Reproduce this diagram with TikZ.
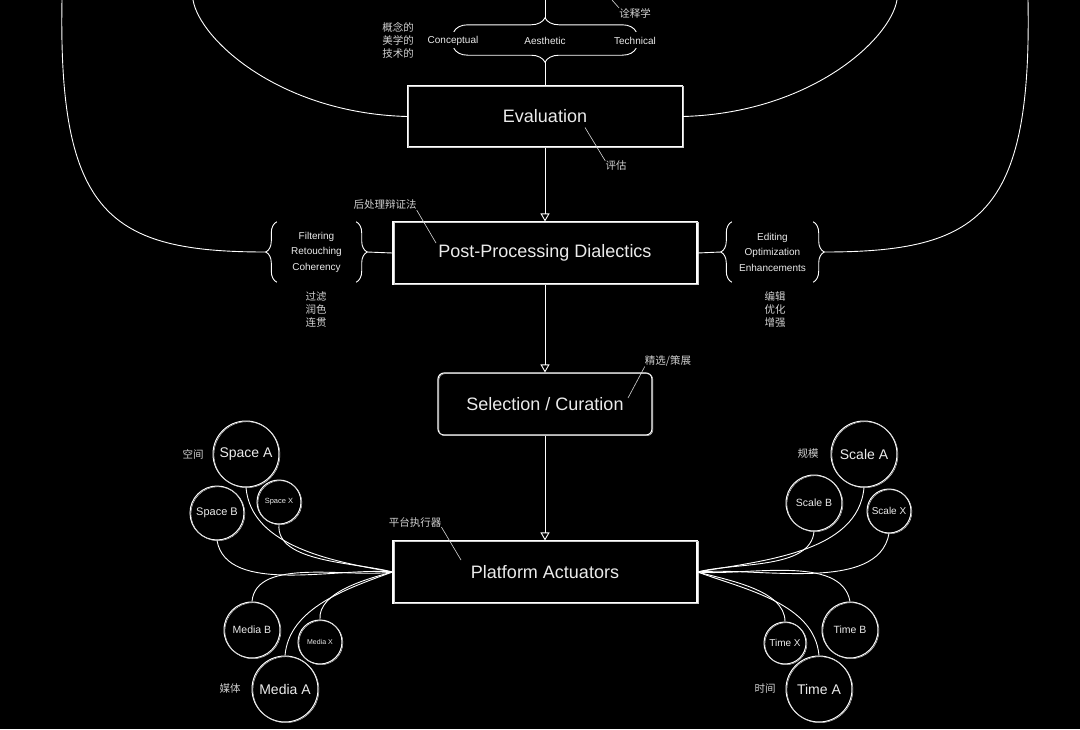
\documentclass[tikz,border=0pt]{standalone}
\usepackage{fontspec}
\setmainfont{Liberation Sans}
\newfontfamily\zh{Noto Sans CJK SC}
\usetikzlibrary{arrows.meta,decorations.pathreplacing}

\begin{document}
\begin{tikzpicture}[x=1pt,y=-1pt]
\tikzstyle{every node}+=[inner sep=0pt,text=white!92!black]
\tikzstyle{rough}=[postaction={draw=white!80!black,line width=0.5pt,transform canvas={shift={(0.9pt,-0.7pt)}}}]
\tikzstyle{box}=[draw=white,line width=1.1pt,rough,font=\fontsize{18}{20}\selectfont]
\tikzstyle{ln}=[white,line width=0.9pt]
\tikzstyle{lead}=[white!85!black,line width=0.6pt]
\tikzstyle{arr}=[ln,-{Triangle[open,length=8pt,width=9pt]}]
\tikzstyle{brc}=[ln,decorate,decoration={brace,amplitude=14pt}]
\tikzstyle{vbrc}=[ln,decorate,decoration={brace,amplitude=11pt}]
\tikzstyle{small}=[font=\fontsize{10}{15.5}\selectfont,align=center]
\tikzstyle{zhnote}=[font=\zh\fontsize{10.5}{13}\selectfont,text=white!82!black,align=center]
\tikzstyle{orb}=[circle,draw=white,line width=1pt,rough]
\fill[black] (0,0) rectangle (1080,729);
\useasboundingbox (0,0) rectangle (1080,729);
% main chain
\node[box,minimum width=275,minimum height=61] (eval) at (545,116.5) {Evaluation};
\node[box,minimum width=304,minimum height=62] (post) at (545,253) {Post-Processing Dialectics};
\node[box,rounded corners=6pt,minimum width=214,minimum height=62] (sel) at (545,404) {Selection / Curation};
\node[box,minimum width=304,minimum height=62] (plat) at (545,572) {Platform Actuators};
\draw[arr] (eval.south) -- (post.north);
\draw[arr] (post.south) -- (sel.north);
\draw[arr] (sel.south) -- (plat.north);
% criteria braces
\node[minimum width=182,minimum height=16] (crit) at (545,40) {};
\node[small] (con) at (453,41) {Conceptual};
\node[small] (aes) at (545,41) {Aesthetic};
\node[small] (tec) at (635,41) {Technical};
\coordinate (topc) at (545,0);
\draw[brc] (crit.north west) -- (crit.north east);
\draw[brc] (crit.south east) -- (crit.south west);
\draw[ln] ([yshift=14pt]crit.north) -- (topc);
\draw[ln] ([yshift=-14pt]crit.south) -- (eval.north);
\node[zhnote] (critZh) at (398,40) {概念的\\美学的\\技术的};
\node[zhnote] (herm) at (635,13) {诠释学};
\coordinate (hermTop) at (612,0);
\draw[lead] (hermTop) -- (herm.north west);
% loops
\coordinate (tl1) at (62,0);
\coordinate (tl2) at (193,0);
\coordinate (tr2) at (897,0);
\coordinate (tr1) at (1028,0);
\draw[ln] (tl2) .. controls (200,40) and (280,113) .. (eval.west);
\draw[ln] (tr2) .. controls (890,40) and (810,113) .. (eval.east);
% post-processing groups
\node[small,minimum width=79,minimum height=60] (flt) at (316.5,252) {Filtering\\Retouching\\Coherency};
\node[small,minimum width=81,minimum height=60] (edt) at (772.5,252) {Editing\\Optimization\\Enhancements};
\draw[vbrc] (flt.south west) -- (flt.north west);
\draw[vbrc] (flt.north east) -- (flt.south east);
\draw[vbrc] (edt.south west) -- (edt.north west);
\draw[vbrc] (edt.north east) -- (edt.south east);
\draw[ln] ([xshift=11pt]flt.east) -- (post.west);
\draw[ln] (post.east) -- ([xshift=-11pt]edt.west);
\draw[ln] (tl1) .. controls (58,215) and (110,252) .. ([xshift=-11pt]flt.west);
\draw[ln] (tr1) .. controls (1032,215) and (980,252) .. ([xshift=11pt]edt.east);
\node[zhnote] (fltZh) at (316,310) {过滤\\润色\\连贯};
\node[zhnote] (edtZh) at (775,310) {编辑\\优化\\增强};
% notes
\node[zhnote] (evN) at (616,166) {评估};
\draw[lead] ([xshift=40pt,yshift=-11pt]eval.center) -- (evN.north west);
\node[zhnote] (postN) at (385,205) {后处理辩证法};
\draw[lead] (postN.south east) -- ([xshift=-109pt,yshift=10pt]post.center);
\node[zhnote] (selN) at (668,361) {精选/策展};
\draw[lead] (selN.south west) -- ([xshift=83pt,yshift=6pt]sel.center);
\node[zhnote] (platN) at (415,522) {平台执行器};
\draw[lead] (platN.south east) -- ([xshift=-84pt,yshift=12pt]plat.center);
% left actuators
\node[orb,minimum size=66,font=\fontsize{14}{16}\selectfont] (spA) at (246,454) {Space A};
\node[orb,minimum size=54,font=\fontsize{11}{13}\selectfont] (spB) at (217,513) {Space B};
\node[orb,minimum size=44,font=\fontsize{7.5}{9}\selectfont] (spX) at (279,502) {Space X};
\node[orb,minimum size=56,font=\fontsize{10.5}{12}\selectfont] (mdB) at (252,630) {Media B};
\node[orb,minimum size=44,font=\fontsize{7}{9}\selectfont] (mdX) at (320,642) {Media X};
\node[orb,minimum size=66,font=\fontsize{14}{16}\selectfont] (mdA) at (285,689) {Media A};
\node[zhnote] (spZh) at (193,454) {空间};
\node[zhnote] (mdZh) at (230,689) {媒体};
\draw[ln] (spA.south) to[out=-85,in=170,looseness=0.9] (plat.west);
\draw[ln] (spB.south) to[out=-80,in=175,looseness=0.8] (plat.west);
\draw[ln] (spX.south) to[out=-95,in=165,looseness=0.8] (plat.west);
\draw[ln] (mdB.north) to[out=85,in=-172,looseness=0.8] (plat.west);
\draw[ln] (mdX.north) to[out=95,in=-165,looseness=0.8] (plat.west);
\draw[ln] (mdA.north) to[out=85,in=-160,looseness=0.9] (plat.west);
% right actuators
\node[orb,minimum size=66,font=\fontsize{14}{16}\selectfont] (scA) at (864,454) {Scale A};
\node[orb,minimum size=56,font=\fontsize{10.5}{12}\selectfont] (scB) at (814,503) {Scale B};
\node[orb,minimum size=44,font=\fontsize{10}{12}\selectfont] (scX) at (889,511) {Scale X};
\node[orb,minimum size=42,font=\fontsize{10}{12}\selectfont] (tmX) at (785,643) {Time X};
\node[orb,minimum size=56,font=\fontsize{10.5}{12}\selectfont] (tmB) at (850,630) {Time B};
\node[orb,minimum size=66,font=\fontsize{14}{16}\selectfont] (tmA) at (819,689) {Time A};
\node[zhnote] (scZh) at (808,454) {规模};
\node[zhnote] (tmZh) at (765,689) {时间};
\draw[ln] (scA.south) to[out=-95,in=10,looseness=0.9] (plat.east);
\draw[ln] (scB.south) to[out=-95,in=15,looseness=0.8] (plat.east);
\draw[ln] (scX.south) to[out=-100,in=5,looseness=0.8] (plat.east);
\draw[ln] (tmX.north) to[out=90,in=-15,looseness=0.8] (plat.east);
\draw[ln] (tmB.north) to[out=100,in=-5,looseness=0.8] (plat.east);
\draw[ln] (tmA.north) to[out=95,in=-20,looseness=0.9] (plat.east);
\end{tikzpicture}
\end{document}
